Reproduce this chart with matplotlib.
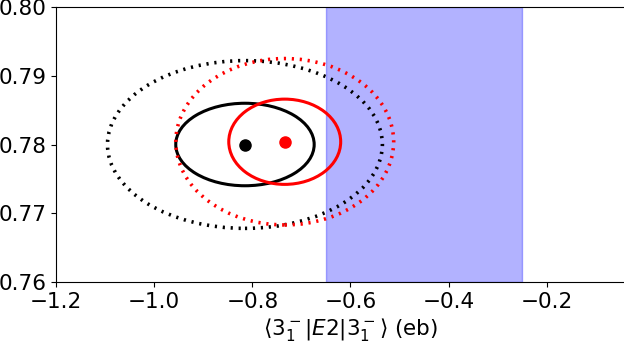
import matplotlib.pyplot as plt
from matplotlib.patches import Ellipse

# central values (x = <3-|E2|3->, y = second quantity)
centers_x = [-0.815, -0.734]
centers_y = [0.7800, 0.7804]
colors = ['black', 'red']

# 1-sigma (solid) and 2-sigma (dotted) half-widths
sig1_dx = [0.141, 0.114]
sig1_dy = [0.0060, 0.0062]
sig2_dx = [0.280, 0.222]
sig2_dy = [0.0122, 0.0121]

band = [-0.65, -0.25]

fig = plt.figure(figsize=(6.24, 3.55), dpi=100)
ax = fig.add_axes([56/624, 1 - 282/355, 589/624, 275/355])

ax.axvspan(band[0], band[1], color='blue', alpha=0.3, zorder=0)

for cx, cy, c, a1, b1, a2, b2 in zip(centers_x, centers_y, colors,
                                     sig1_dx, sig1_dy, sig2_dx, sig2_dy):
    ax.add_patch(Ellipse((cx, cy), 2*a1, 2*b1, fill=False, ec=c, lw=2.2))
    ax.add_patch(Ellipse((cx, cy), 2*a2, 2*b2, fill=False, ec=c, lw=2.6,
                         ls=(0, (0.6, 1.6))))
    ax.plot(cx, cy, 'o', color=c, ms=8)

ax.set_xlim(-1.2, 0.0)
ax.set_ylim(0.76, 0.80)
ax.set_xticks([-1.2, -1.0, -0.8, -0.6, -0.4, -0.2])
ax.set_yticks([0.76, 0.77, 0.78, 0.79, 0.80])
ax.tick_params(labelsize=15.5)
ax.set_xlabel(r'$\langle 3_1^-|E2|3_1^-\rangle$ (eb)', fontsize=15.5, labelpad=3)

fig.savefig('out.png', dpi=100)
